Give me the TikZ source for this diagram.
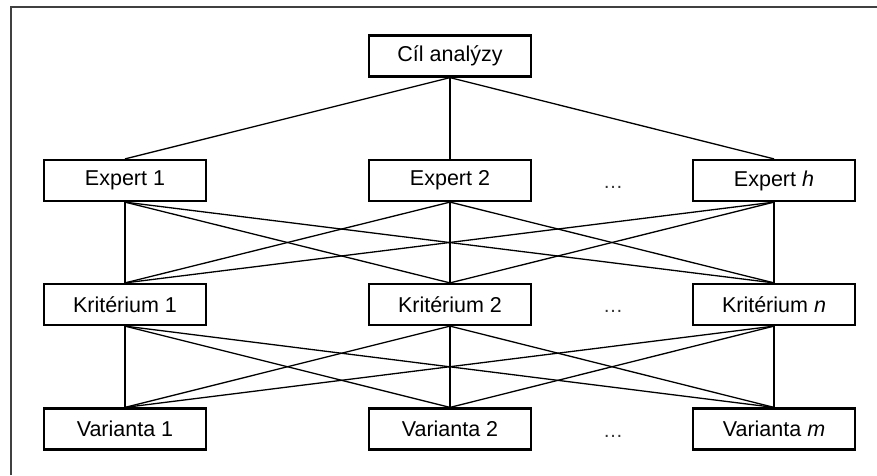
\documentclass[tikz,border=0pt]{standalone}
\usepackage{fontspec}
\setmainfont{Liberation Sans}
\begin{document}
\begin{tikzpicture}[x=1pt,y=-1pt,
  box/.style={draw,line width=2.2pt,minimum width=162pt,minimum height=41pt,inner sep=0pt,font=\fontsize{21.5}{24}\selectfont},
  link/.style={line width=1.3pt},
  dotsnode/.style={inner sep=0pt,font=\fontsize{20}{24}\selectfont,black!80}]
\useasboundingbox (0,0) rectangle (877,475);
\fill[white] (0,0) rectangle (877,475);
\draw[line width=2pt,black!75] (11,475) -- (11,7) -- (877,7);
% nodes
\node[box] (goal) at (450,56) {Cíl analýzy};
\node[box] (e1) at (125,180.5) {Expert 1};
\node[box] (e2) at (450,180.5) {Expert 2};
\node[box] (eh) at (774,180.5) {Expert \textit{h}};
\node[box] (k1) at (125,304.5) {Kritérium 1};
\node[box] (k2) at (450,304.5) {Kritérium 2};
\node[box] (kn) at (774,304.5) {Kritérium \textit{n}};
\node[box] (v1) at (125,429) {Varianta 1};
\node[box] (v2) at (450,429) {Varianta 2};
\node[box] (vm) at (774,429) {Varianta \textit{m}};
\node[dotsnode] (d1) at (613,187) {\dots};
\node[dotsnode] (d2) at (613,311) {\dots};
\node[dotsnode] (d3) at (613,436) {\dots};
% links
\foreach \e in {e1,e2,eh} \draw[link] (goal.south) -- (\e.north);
\foreach \e in {e1,e2,eh} \foreach \k in {k1,k2,kn} \draw[link] (\e.south) -- (\k.north);
\foreach \k in {k1,k2,kn} \foreach \v in {v1,v2,vm} \draw[link] (\k.south) -- (\v.north);
\end{tikzpicture}
\end{document}
